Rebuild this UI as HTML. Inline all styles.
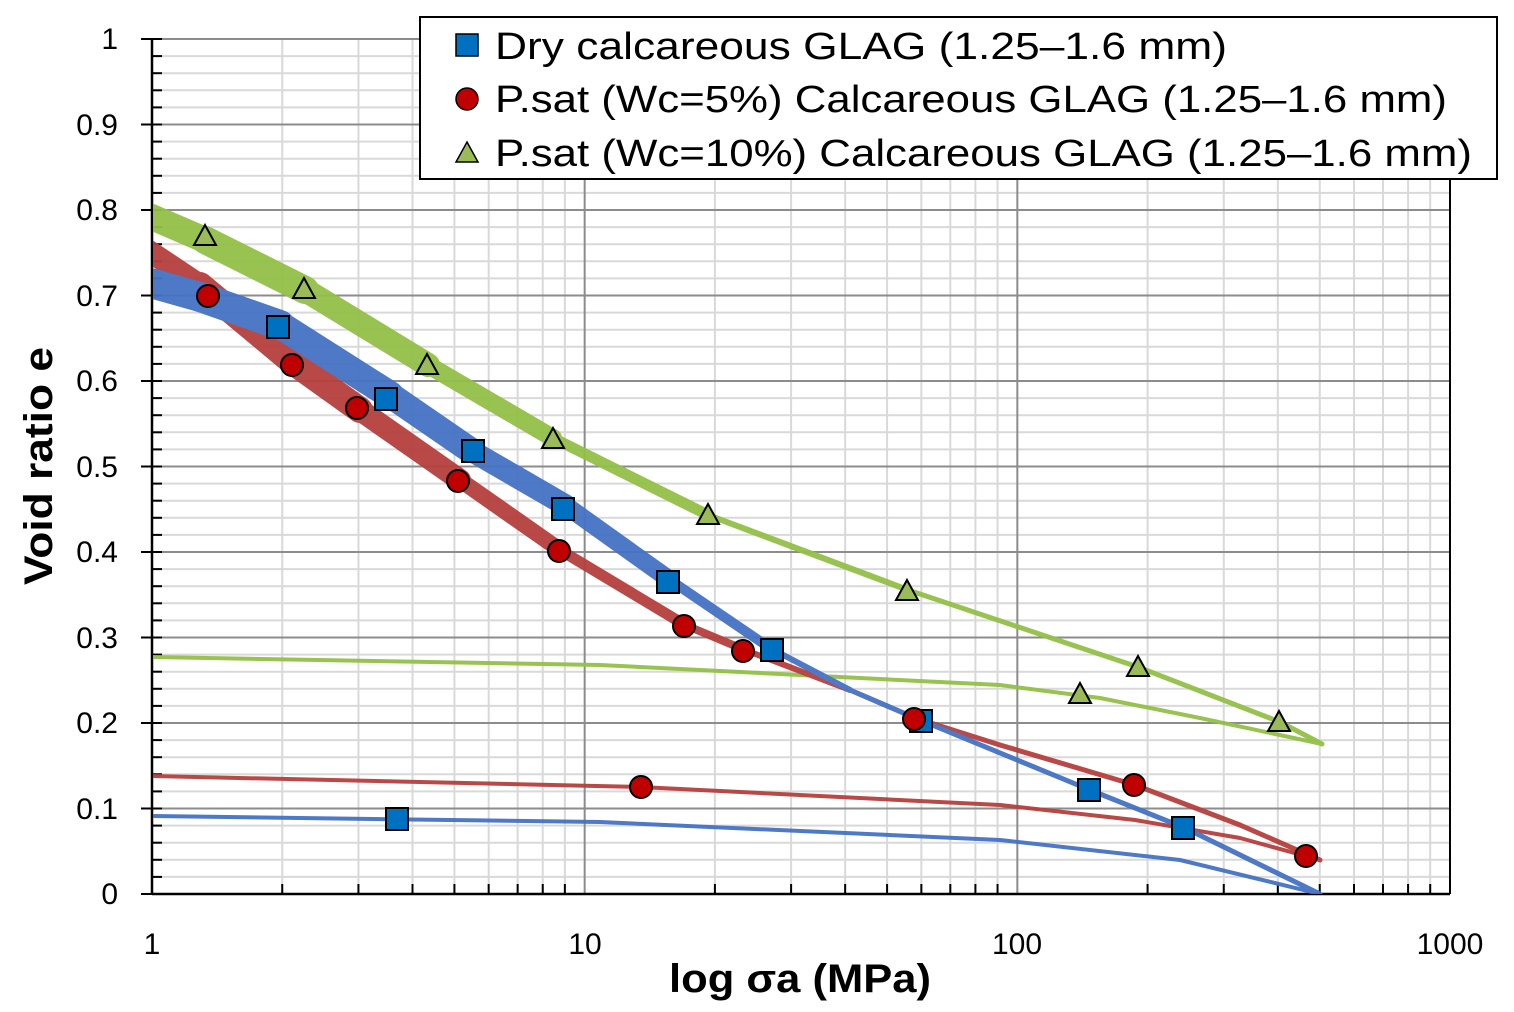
<!DOCTYPE html>
<html><head><meta charset="utf-8"><style>body{margin:0;background:#fff}svg{display:block}</style></head>
<body>
<svg id="s" width="1514" height="1012" xmlns="http://www.w3.org/2000/svg" font-family="Liberation Sans, sans-serif">
<defs><clipPath id="cp"><rect x="153" y="30" width="1300" height="864"/></clipPath></defs>
<g id="grid"></g>
<g id="series" fill="none" stroke-linecap="round" stroke-linejoin="round" clip-path="url(#cp)"></g>
<g id="marks" stroke="#000" stroke-width="2"></g>
<g font-size="30" fill="#000">
<text x="118" y="49" text-anchor="end">1</text>
<text x="118" y="135" text-anchor="end">0.9</text>
<text x="118" y="220" text-anchor="end">0.8</text>
<text x="118" y="306" text-anchor="end">0.7</text>
<text x="118" y="391" text-anchor="end">0.6</text>
<text x="118" y="477" text-anchor="end">0.5</text>
<text x="118" y="562" text-anchor="end">0.4</text>
<text x="118" y="648" text-anchor="end">0.3</text>
<text x="118" y="733" text-anchor="end">0.2</text>
<text x="118" y="819" text-anchor="end">0.1</text>
<text x="118" y="904" text-anchor="end">0</text>
<text x="152" y="954" text-anchor="middle">1</text>
<text x="585" y="954" text-anchor="middle">10</text>
<text x="1017" y="954" text-anchor="middle">100</text>
<text x="1450" y="954" text-anchor="middle">1000</text>
</g>
<text x="800" y="992" font-size="40" font-weight="bold" text-anchor="middle" textLength="262" lengthAdjust="spacingAndGlyphs">log σa (MPa)</text>
<text transform="translate(52,466) rotate(-90)" font-size="40" font-weight="bold" text-anchor="middle" textLength="238" lengthAdjust="spacingAndGlyphs">Void ratio e</text>
<rect x="420" y="17" width="1077" height="162" fill="#fff" stroke="#000" stroke-width="2"/>
<rect x="456" y="34" width="22" height="22" fill="#0070c0" stroke="#000" stroke-width="1.5"/>
<circle cx="467" cy="99" r="11" fill="#c00000" stroke="#000" stroke-width="1.5"/>
<polygon points="467,142 478,162 456,162" fill="#9bbb59" stroke="#000" stroke-width="1.5"/>
<g font-size="38" fill="#000">
<text x="495" y="59" textLength="732" lengthAdjust="spacingAndGlyphs">Dry calcareous GLAG (1.25–1.6 mm)</text>
<text x="495" y="112" textLength="952" lengthAdjust="spacingAndGlyphs">P.sat (Wc=5%) Calcareous GLAG (1.25–1.6 mm)</text>
<text x="495" y="166" textLength="977" lengthAdjust="spacingAndGlyphs">P.sat (Wc=10%) Calcareous GLAG (1.25–1.6 mm)</text>
</g>
</svg>
<script>
const NS="http://www.w3.org/2000/svg";
function el(p,t,a){const e=document.createElementNS(NS,t);for(const k in a)e.setAttribute(k,a[k]);p.appendChild(e);return e;}
const g=document.getElementById('grid');
const X=v=>152+432.667*Math.log10(v), Y=e=>894-855*e;
for(let i=1;i<50;i++){if(i%5)el(g,'line',{x1:152,x2:1450,y1:Y(i*0.02),y2:Y(i*0.02),stroke:'#d9d9d9','stroke-width':2});}
for(let d=1;d<1000;d*=10)for(let m=2;m<=9;m++){const x=X(d*m);el(g,'line',{x1:x,x2:x,y1:39,y2:894,stroke:'#d9d9d9','stroke-width':2});el(g,'line',{x1:x,x2:x,y1:894,y2:884,stroke:'#000','stroke-width':2});}
for(let i=1;i<=10;i++)el(g,'line',{x1:152,x2:1450,y1:Y(i*0.1),y2:Y(i*0.1),stroke:'#8c8c8c','stroke-width':2});
[10,100].forEach(v=>el(g,'line',{x1:X(v),x2:X(v),y1:39,y2:894,stroke:'#8c8c8c','stroke-width':2}));
for(let i=0;i<=50;i++){const y=Y(i*0.02);el(g,'line',{x1:i%5?152:141,x2:162,y1:y,y2:y,stroke:'#000','stroke-width':2});}
el(g,'line',{x1:1450,x2:1450,y1:39,y2:894,stroke:'#000','stroke-width':2});
el(g,'line',{x1:152,x2:152,y1:38,y2:895,stroke:'#000','stroke-width':2.5});
el(g,'line',{x1:152,x2:1450,y1:894,y2:894,stroke:'#000','stroke-width':2.5});
const s=document.getElementById('series');
function band(pts,widths,col){for(let i=0;i<pts.length-1;i++){el(s,'line',{x1:pts[i][0],y1:pts[i][1],x2:pts[i+1][0],y2:pts[i+1][1],stroke:col,'stroke-width':widths[i]});}}
function line(pts,col,w){el(s,'polyline',{points:pts.map(p=>p.join(',')).join(' '),stroke:col,'stroke-width':w||4});}
const B='#4472c4',R='#b5403e',G='#93c047';
line([[152,816],[600,822],[1000,840],[1180,860],[1320,894]],B);
line([[152,776],[640,787],[1000,805],[1135,820],[1240,838],[1320,860]],R);
line([[152,657],[600,665],[1000,685],[1100,698],[1200,718],[1322,744]],G);
band([[140,212],[205,240],[305,290],[428,365],[553,438],[708,515],[908,590],[1138,667],[1280,722],[1322,744]],[26,28,24,18,11,6,5,5,5],G);
band([[140,245],[200,285],[290,360],[360,410],[460,480],[560,550],[685,625],[745,650],[850,690],[915,718],[1000,745],[1135,785],[1240,825],[1320,860]],[22,26,26,22,16,11,8,6,5,5,5,5,5],R);
band([[140,280],[200,297],[280,325],[390,395],[470,450],[565,505],[670,580],[770,648],[850,690],[920,720],[1090,790],[1185,828],[1320,894]],[30,30,28,26,22,18,10,6,5,5,5,5],B);
s.setAttribute('opacity','0.95');
const m=document.getElementById('marks');
[[278,327],[386,399],[473,451],[563,509],[668,582],[772,650],[921,721],[1089,790],[1183,828],[397,819]].forEach(p=>el(m,'rect',{x:p[0]-11,y:p[1]-11,width:22,height:22,fill:'#0070c0'}));
[[208,296],[292,365],[357,408],[458,481],[559,551],[684,626],[743,651],[914,719],[1134,785],[1306,856],[641,787]].forEach(p=>el(m,'circle',{cx:p[0],cy:p[1],r:11,fill:'#c00000'}));
[[205,236],[304,289],[427,365],[553,439],[708,515],[907,591],[1138,667],[1080,694],[1279,722]].forEach(p=>el(m,'polygon',{points:`${p[0]},${p[1]-11} ${p[0]+11},${p[1]+9} ${p[0]-11},${p[1]+9}`,fill:'#9bbb59'}));
</script>
</body></html>
